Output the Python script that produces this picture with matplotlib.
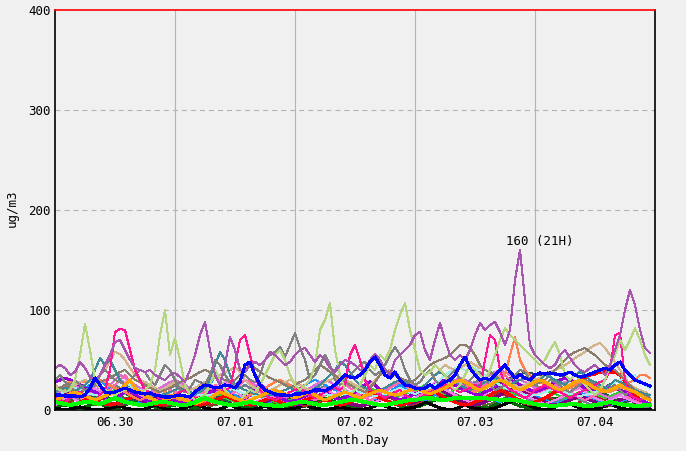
import numpy as np
import matplotlib
matplotlib.use("Agg")
import matplotlib.pyplot as plt

# hourly values, 06.30 00H .. 07.04 23H (12 values per row = half a day)
day_labels = ["06.30", "07.01", "07.02", "07.03", "07.04"]

purple = [
    42, 45, 42, 35, 38, 48, 42, 33, 30, 35, 45, 55,
    68, 70, 60, 50, 42, 40, 38, 40, 35, 32, 30, 35,
    37, 33, 28, 40, 55, 75, 88, 60, 35, 25, 45, 73,
    60, 40, 38, 45, 48, 45, 50, 58, 55, 50, 45, 48,
    55, 60, 62, 55, 48, 55, 50, 42, 38, 45, 50, 48,
    45, 40, 42, 50, 56, 50, 40, 35, 50, 55, 60, 65,
    75, 78, 60, 50, 70, 87, 70, 55, 50, 55, 50, 60,
    75, 87, 80, 85, 88, 78, 65, 80, 130, 160, 110, 65,
    55, 50, 45, 42, 45, 55, 60, 52, 45, 40, 38, 42,
    45, 40, 35, 45, 60, 75, 100, 120, 105, 80, 62, 57,
]
yellowgreen = [
    22, 20, 18, 20, 30, 55, 86, 60, 30, 22, 20, 18,
    15, 18, 20, 22, 20, 18, 20, 25, 40, 75, 100, 55,
    72, 50, 25, 15, 10, 12, 15, 25, 40, 30, 20, 15,
    12, 10, 15, 20, 18, 25, 35, 45, 55, 60, 50, 35,
    25, 20, 25, 30, 45, 80, 90, 107, 60, 35, 20, 15,
    20, 25, 35, 45, 40, 55, 50, 60, 80, 95, 107, 80,
    60, 40, 35, 38, 45, 40, 35, 25, 20, 25, 35, 45,
    40, 35, 30, 40, 55, 70, 82, 75, 70, 65, 60, 55,
    50, 45, 50, 60, 68, 55, 35, 30, 35, 30, 25, 20,
    15, 20, 30, 45, 55, 70, 60, 70, 82, 70, 55, 45,
]
deeppink = [
    12, 10, 8, 12, 15, 18, 15, 12, 10, 15, 20, 40,
    78, 81, 80, 60, 40, 30, 20, 18, 15, 12, 10, 12,
    15, 18, 20, 15, 12, 10, 8, 12, 15, 18, 20, 22,
    45, 70, 75, 55, 35, 20, 15, 12, 10, 12, 15, 18,
    20, 22, 18, 15, 12, 15, 18, 20, 22, 20, 25, 55,
    65, 50, 30, 20, 18, 15, 12, 15, 18, 20, 15, 12,
    10, 12, 15, 18, 20, 22, 25, 22, 20, 18, 20, 22,
    25, 22, 50, 75, 70, 40, 25, 20, 18, 15, 12, 15,
    20, 22, 25, 22, 20, 18, 15, 12, 15, 18, 20, 22,
    25, 28, 30, 40, 75, 77, 30, 15, 12, 10, 12, 10,
]
blue = [
    15, 15, 14, 14, 14, 13, 15, 22, 32, 25, 18, 17,
    18, 20, 22, 20, 18, 17, 16, 17, 15, 14, 13, 13,
    14, 15, 14, 13, 18, 22, 25, 24, 22, 23, 25, 24,
    22, 28, 45, 48, 35, 25, 20, 18, 16, 15, 15, 14,
    16, 16, 17, 18, 20, 20, 19, 22, 25, 30, 35, 33,
    32, 35, 40, 48, 53, 45, 35, 32, 38, 30, 25, 24,
    22, 21, 22, 25, 22, 25, 28, 30, 35, 45, 53, 42,
    35, 30, 32, 30, 35, 40, 45, 38, 32, 35, 32, 30,
    35, 37, 36, 37, 36, 35, 36, 38, 35, 33, 34, 36,
    38, 40, 42, 40, 45, 48, 40, 35, 30, 28, 26, 24,
]
gray = [
    30, 35, 28, 25, 30, 25, 20, 22, 25, 35, 40, 35,
    30, 28, 25, 30, 35, 40, 38, 30, 25, 35, 45, 40,
    30, 20, 18, 22, 30, 28, 25, 35, 50, 45, 35, 28,
    25, 30, 35, 30, 28, 35, 50, 55, 58, 63, 53, 65,
    77, 62, 50, 30, 35, 45, 55, 45, 30, 25, 30, 35,
    40, 45, 48, 40, 35, 38, 45, 55, 63, 55, 40, 30,
    25, 28, 35, 40, 30, 25, 28, 35, 40, 30, 25, 30,
    35, 38, 30, 25, 20, 22, 25, 30, 35, 40, 38, 30,
    25, 22, 25, 30, 28, 25, 20, 18, 22, 25, 30, 28,
    25, 20, 18, 22, 25, 20, 15, 18, 20, 15, 12, 10,
]
teal = [
    18, 20, 22, 20, 18, 22, 25, 30, 40, 52, 45, 50,
    40, 30, 25, 22, 20, 18, 16, 15, 14, 15, 16, 18,
    20, 22, 20, 18, 16, 18, 22, 30, 45, 58, 50, 35,
    25, 22, 20, 18, 16, 15, 14, 15, 16, 18, 20, 22,
    20, 18, 16, 18, 22, 25, 30, 35, 40, 48, 45, 38,
    30, 25, 22, 20, 18, 20, 22, 25, 28, 30, 28, 25,
    22, 20, 25, 30, 35, 38, 35, 30, 28, 25, 22, 20,
    22, 25, 28, 30, 32, 30, 28, 25, 28, 30, 32, 30,
    28, 30, 35, 33, 30, 28, 25, 30, 35, 38, 35, 30,
    28, 25, 22, 25, 30, 28, 25, 22, 20, 18, 16, 15,
]
tan = [
    25, 22, 20, 22, 25, 28, 30, 28, 30, 35, 40, 50,
    58, 56, 50, 42, 35, 30, 28, 25, 22, 20, 22, 25,
    28, 25, 22, 20, 22, 25, 28, 30, 32, 35, 38, 40,
    43, 38, 30, 25, 22, 20, 18, 20, 22, 25, 28, 30,
    28, 25, 22, 20, 22, 25, 28, 30, 32, 35, 30, 28,
    25, 22, 20, 25, 30, 35, 38, 40, 35, 30, 28, 25,
    22, 20, 25, 30, 35, 40, 45, 42, 40, 42, 45, 48,
    45, 42, 40, 38, 35, 32, 30, 28, 25, 22, 25, 28,
    30, 32, 35, 38, 40, 42, 45, 48, 52, 55, 58, 62,
    65, 67, 62, 55, 48, 40, 32, 25, 22, 20, 18, 15,
]
browngray = [
    20, 22, 25, 22, 20, 18, 20, 22, 25, 28, 30, 32,
    35, 38, 40, 35, 30, 28, 25, 22, 20, 18, 20, 22,
    25, 28, 30, 32, 35, 38, 40, 38, 35, 32, 30, 28,
    30, 35, 40, 45, 42, 38, 35, 32, 30, 28, 25, 22,
    25, 28, 30, 35, 40, 45, 42, 38, 35, 30, 28, 25,
    22, 20, 18, 22, 28, 35, 40, 38, 35, 32, 30, 28,
    30, 35, 40, 45, 48, 50, 52, 55, 60, 65, 65, 62,
    55, 45, 40, 38, 35, 30, 28, 25, 22, 20, 22, 25,
    25, 28, 30, 35, 40, 45, 50, 55, 58, 60, 62, 58,
    55, 50, 45, 42, 40, 35, 30, 25, 20, 18, 15, 12,
]
coral = [
    20, 22, 25, 28, 28, 28, 28, 28, 30, 30, 28, 25,
    22, 20, 18, 15, 12, 10, 12, 15, 18, 20, 18, 15,
    12, 10, 12, 15, 18, 20, 22, 25, 22, 20, 18, 15,
    12, 10, 12, 15, 18, 20, 22, 25, 28, 30, 28, 25,
    22, 20, 18, 20, 22, 25, 28, 30, 32, 30, 28, 25,
    22, 20, 18, 15, 18, 20, 22, 25, 28, 30, 28, 25,
    22, 20, 18, 20, 22, 25, 28, 30, 28, 25, 22, 20,
    18, 20, 22, 25, 28, 30, 35, 55, 73, 50, 40, 35,
    30, 28, 25, 22, 20, 18, 20, 22, 25, 28, 30, 28,
    25, 22, 20, 18, 20, 22, 25, 28, 30, 35, 35, 32,
]
lightcyan = [
    15, 16, 18, 20, 22, 20, 18, 16, 15, 14, 15, 16,
    18, 20, 22, 25, 22, 20, 18, 16, 15, 14, 15, 18,
    20, 22, 20, 18, 16, 15, 14, 15, 16, 18, 20, 22,
    20, 18, 16, 15, 14, 15, 16, 18, 20, 18, 16, 15,
    14, 15, 16, 18, 20, 18, 16, 15, 14, 15, 16, 18,
    20, 18, 16, 15, 14, 15, 16, 18, 20, 22, 20, 18,
    16, 18, 20, 22, 25, 30, 35, 38, 42, 42, 40, 40,
    42, 38, 35, 30, 28, 25, 22, 20, 18, 16, 15, 14,
    15, 16, 18, 20, 22, 20, 18, 16, 15, 14, 15, 16,
    18, 20, 22, 25, 28, 30, 32, 35, 35, 30, 25, 22,
]
orange = [
    10, 12, 14, 16, 18, 16, 14, 12, 10, 12, 14, 16,
    18, 20, 25, 30, 22, 18, 15, 12, 10, 8, 10, 12,
    15, 12, 10, 8, 6, 8, 10, 12, 15, 18, 16, 14,
    12, 10, 8, 10, 12, 14, 16, 18, 20, 18, 16, 14,
    12, 14, 16, 18, 15, 12, 10, 12, 14, 16, 18, 16,
    14, 12, 14, 16, 18, 20, 18, 16, 15, 16, 18, 20,
    22, 20, 18, 16, 18, 20, 22, 25, 28, 30, 28, 25,
    22, 20, 22, 25, 28, 30, 28, 25, 22, 20, 22, 25,
    28, 30, 28, 25, 22, 20, 22, 25, 28, 30, 28, 25,
    22, 20, 18, 20, 22, 25, 22, 20, 18, 15, 12, 10,
]
green = [
    8, 7, 6, 5, 6, 7, 8, 8, 7, 6, 8, 10,
    12, 10, 8, 7, 6, 5, 5, 6, 7, 8, 8, 7,
    6, 5, 5, 6, 8, 10, 12, 10, 8, 7, 6, 5,
    5, 6, 7, 8, 7, 6, 5, 5, 4, 4, 5, 6,
    7, 8, 8, 7, 6, 5, 5, 6, 7, 8, 9, 10,
    10, 9, 8, 7, 6, 5, 5, 6, 7, 8, 9, 10,
    10, 11, 12, 12, 11, 10, 10, 11, 12, 12, 12, 12,
    12, 12, 12, 11, 11, 10, 10, 10, 10, 9, 8, 7,
    6, 5, 5, 4, 4, 5, 5, 6, 6, 5, 4, 4,
    5, 6, 7, 8, 7, 6, 5, 5, 4, 4, 5, 5,
]
darkviolet = [
    28, 30, 32, 30, 28, 25, 22, 20, 18, 15, 12, 10,
    12, 15, 18, 20, 15, 12, 10, 8, 10, 12, 15, 12,
    10, 8, 6, 8, 10, 12, 15, 18, 20, 22, 18, 15,
    12, 10, 12, 15, 20, 25, 22, 18, 15, 12, 10, 8,
    10, 12, 14, 16, 18, 20, 18, 15, 12, 10, 12, 15,
    18, 22, 25, 28, 25, 20, 18, 15, 12, 10, 12, 14,
    16, 18, 20, 22, 25, 28, 30, 28, 25, 22, 20, 18,
    16, 15, 18, 20, 22, 25, 28, 30, 28, 25, 22, 20,
    18, 20, 22, 25, 28, 30, 32, 30, 28, 25, 22, 20,
    18, 20, 22, 25, 22, 20, 18, 15, 12, 10, 8, 6,
]
violet = [
    5, 8, 12, 15, 10, 8, 12, 18, 22, 18, 15, 20,
    25, 30, 28, 22, 18, 15, 12, 10, 8, 12, 15, 18,
    20, 15, 10, 8, 12, 16, 20, 18, 15, 22, 28, 25,
    20, 15, 12, 10, 8, 10, 12, 15, 12, 10, 8, 6,
    8, 10, 12, 15, 18, 20, 22, 18, 15, 20, 25, 22,
    18, 15, 12, 10, 8, 10, 12, 15, 18, 15, 12, 10,
    12, 15, 18, 22, 28, 25, 20, 18, 15, 12, 10, 8,
    10, 12, 15, 20, 28, 35, 30, 25, 20, 18, 15, 12,
    10, 8, 6, 8, 10, 12, 15, 18, 20, 22, 18, 15,
    12, 10, 8, 10, 12, 15, 12, 10, 8, 6, 5, 4,
]
darkgreen = [
    3, 4, 5, 4, 3, 2, 3, 5, 8, 6, 4, 3,
    2, 3, 5, 8, 10, 8, 6, 4, 3, 2, 3, 4,
    5, 6, 4, 3, 2, 3, 5, 8, 12, 10, 8, 6,
    4, 3, 2, 3, 4, 6, 8, 10, 8, 6, 4, 3,
    2, 3, 4, 6, 8, 10, 12, 10, 8, 6, 4, 3,
    2, 3, 5, 8, 10, 12, 10, 8, 6, 4, 3, 2,
    3, 4, 6, 8, 10, 12, 15, 12, 10, 8, 6, 5,
    4, 3, 2, 3, 5, 8, 10, 8, 6, 4, 3, 2,
    3, 5, 8, 10, 12, 10, 8, 6, 4, 3, 2, 3,
    5, 8, 10, 12, 10, 8, 6, 4, 3, 2, 3, 4,
]
black = [
    2, 1, 0, 1, 2, 3, 2, 1, 0, 0, 1, 2,
    3, 4, 2, 1, 0, 0, 1, 3, 5, 3, 1, 0,
    0, 1, 2, 4, 6, 4, 2, 1, 0, 1, 3, 5,
    3, 1, 0, 0, 1, 2, 4, 2, 1, 0, 0, 1,
    2, 3, 5, 3, 2, 1, 0, 1, 2, 3, 2, 1,
    0, 0, 1, 2, 4, 6, 4, 2, 1, 0, 1, 2,
    3, 5, 8, 6, 4, 2, 1, 0, 1, 3, 5, 3,
    2, 1, 0, 1, 2, 4, 6, 8, 10, 8, 6, 4,
    2, 1, 0, 1, 3, 5, 8, 6, 4, 2, 1, 0,
    1, 2, 4, 6, 4, 2, 1, 0, 0, 1, 2, 1,
]
red = [
    10, 8, 6, 5, 6, 8, 10, 12, 10, 8, 6, 5,
    6, 8, 10, 12, 14, 12, 10, 8, 6, 5, 6, 8,
    10, 12, 10, 8, 6, 5, 6, 8, 10, 12, 14, 12,
    10, 8, 6, 5, 6, 8, 10, 12, 10, 8, 6, 5,
    6, 8, 10, 12, 15, 12, 10, 8, 6, 5, 6, 8,
    10, 12, 15, 18, 15, 12, 10, 8, 6, 5, 6, 8,
    10, 12, 14, 16, 18, 15, 12, 10, 8, 6, 5, 6,
    8, 10, 12, 15, 18, 20, 18, 15, 12, 10, 8, 6,
    8, 10, 12, 15, 18, 20, 22, 25, 28, 30, 32, 35,
    36, 38, 38, 38, 38, 35, 28, 20, 15, 10, 8, 6,
]
brown = [
    15, 12, 10, 8, 10, 12, 15, 18, 15, 12, 10, 8,
    6, 5, 6, 8, 10, 12, 10, 8, 6, 5, 4, 5,
    6, 8, 10, 12, 10, 8, 6, 5, 6, 8, 10, 12,
    15, 12, 10, 8, 6, 5, 4, 5, 6, 8, 10, 8,
    6, 5, 4, 5, 6, 8, 10, 12, 15, 12, 10, 8,
    6, 5, 6, 8, 10, 12, 15, 12, 10, 8, 6, 5,
    6, 8, 10, 12, 15, 18, 20, 18, 15, 12, 10, 8,
    6, 8, 10, 12, 15, 18, 15, 12, 10, 8, 6, 5,
    6, 8, 10, 12, 10, 8, 6, 5, 6, 8, 10, 12,
    15, 12, 10, 8, 6, 5, 4, 5, 6, 8, 6, 5,
]
hotpink = [
    18, 20, 22, 18, 15, 12, 15, 20, 25, 22, 18, 20,
    25, 30, 35, 28, 22, 18, 15, 12, 15, 18, 22, 20,
    18, 15, 12, 10, 12, 15, 18, 20, 25, 22, 18, 15,
    18, 25, 30, 28, 22, 18, 15, 12, 10, 12, 15, 18,
    20, 18, 15, 12, 10, 12, 15, 20, 25, 30, 28, 22,
    18, 15, 12, 10, 12, 15, 18, 22, 25, 28, 25, 20,
    18, 15, 18, 22, 25, 28, 30, 32, 30, 28, 25, 22,
    20, 22, 25, 28, 35, 40, 35, 30, 25, 22, 20, 18,
    15, 18, 20, 22, 25, 22, 20, 18, 15, 12, 10, 12,
    15, 18, 20, 22, 25, 20, 15, 12, 10, 8, 6, 5,
]
darkpurple = [
    12, 10, 15, 20, 18, 15, 12, 10, 8, 6, 8, 10,
    12, 15, 18, 15, 12, 10, 8, 10, 12, 14, 12, 10,
    8, 6, 5, 6, 8, 10, 12, 15, 18, 20, 18, 15,
    12, 10, 8, 6, 5, 6, 8, 10, 12, 10, 8, 6,
    5, 6, 8, 10, 12, 15, 18, 15, 12, 10, 8, 6,
    5, 4, 5, 6, 8, 10, 12, 14, 12, 10, 8, 6,
    8, 10, 12, 15, 18, 20, 18, 15, 12, 10, 8, 6,
    5, 6, 8, 10, 12, 15, 18, 20, 22, 20, 18, 15,
    12, 10, 8, 6, 5, 6, 8, 10, 12, 15, 12, 10,
    8, 6, 5, 6, 8, 10, 12, 10, 8, 6, 5, 4,
]
limegreen = [
    12, 14, 16, 18, 16, 14, 12, 10, 12, 14, 16, 18,
    20, 18, 16, 14, 12, 10, 8, 10, 12, 14, 16, 14,
    12, 10, 8, 10, 12, 15, 18, 20, 18, 15, 12, 10,
    8, 10, 12, 14, 16, 14, 12, 10, 8, 6, 8, 10,
    12, 14, 16, 18, 20, 18, 16, 14, 12, 10, 12, 14,
    16, 18, 20, 22, 20, 18, 16, 14, 12, 14, 16, 18,
    20, 22, 25, 22, 20, 18, 16, 18, 20, 22, 24, 22,
    20, 18, 22, 28, 30, 25, 20, 18, 16, 14, 16, 18,
    20, 22, 20, 18, 16, 14, 12, 14, 16, 18, 20, 18,
    16, 14, 12, 14, 16, 18, 16, 14, 12, 10, 8, 6,
]
dodgerblue = [
    8, 10, 12, 15, 18, 20, 22, 25, 28, 30, 25, 20,
    15, 12, 10, 8, 6, 8, 10, 12, 15, 12, 10, 8,
    6, 8, 10, 12, 15, 18, 20, 25, 35, 30, 22, 18,
    15, 12, 10, 8, 6, 5, 6, 8, 10, 12, 15, 18,
    20, 22, 25, 28, 30, 28, 25, 22, 20, 18, 15, 12,
    10, 8, 6, 8, 10, 12, 15, 18, 22, 25, 22, 18,
    15, 12, 10, 12, 15, 18, 20, 22, 25, 28, 25, 22,
    20, 18, 15, 12, 10, 8, 10, 12, 15, 18, 20, 18,
    15, 12, 10, 8, 6, 8, 10, 12, 15, 18, 15, 12,
    10, 8, 6, 5, 6, 8, 10, 12, 10, 8, 6, 5,
]
slategray = [
    20, 18, 16, 14, 12, 10, 12, 14, 16, 18, 20, 22,
    25, 22, 20, 18, 16, 15, 14, 15, 16, 18, 20, 22,
    24, 22, 20, 18, 16, 14, 12, 10, 12, 14, 16, 18,
    20, 22, 25, 22, 20, 18, 16, 14, 12, 10, 8, 10,
    12, 14, 16, 18, 20, 22, 24, 22, 20, 18, 16, 14,
    12, 10, 8, 10, 12, 14, 16, 18, 20, 22, 20, 18,
    16, 14, 12, 10, 12, 14, 16, 18, 20, 22, 24, 26,
    28, 30, 28, 26, 24, 22, 20, 18, 16, 14, 12, 10,
    8, 6, 5, 6, 8, 10, 12, 14, 12, 10, 8, 6,
    5, 4, 5, 6, 8, 10, 8, 6, 5, 4, 3, 3,
]
orchid = [
    15, 18, 20, 22, 25, 22, 20, 18, 15, 18, 22, 25,
    30, 35, 32, 28, 25, 22, 20, 18, 20, 22, 25, 28,
    30, 28, 25, 22, 20, 18, 15, 12, 15, 18, 20, 22,
    25, 28, 30, 28, 25, 22, 20, 18, 16, 14, 12, 14,
    16, 18, 20, 22, 25, 28, 30, 28, 25, 22, 20, 18,
    16, 14, 12, 14, 16, 18, 20, 22, 25, 28, 30, 28,
    25, 22, 20, 18, 20, 22, 25, 28, 30, 32, 30, 28,
    25, 28, 32, 35, 38, 40, 38, 35, 32, 30, 28, 25,
    22, 20, 18, 20, 22, 25, 28, 30, 28, 25, 22, 20,
    18, 16, 14, 12, 14, 16, 18, 20, 18, 16, 14, 12,
]
darkolive = [
    5, 6, 8, 10, 12, 10, 8, 6, 5, 6, 8, 10,
    12, 14, 12, 10, 8, 6, 5, 6, 8, 10, 12, 14,
    16, 14, 12, 10, 8, 6, 5, 4, 5, 6, 8, 10,
    12, 14, 16, 18, 16, 14, 12, 10, 8, 6, 5, 6,
    8, 10, 12, 14, 16, 14, 12, 10, 8, 6, 8, 10,
    12, 14, 16, 18, 20, 18, 16, 14, 12, 10, 8, 6,
    5, 6, 8, 10, 12, 14, 16, 18, 16, 14, 12, 10,
    8, 6, 5, 6, 8, 10, 12, 14, 16, 14, 12, 10,
    8, 6, 5, 4, 5, 6, 8, 10, 12, 10, 8, 6,
    5, 4, 3, 4, 5, 6, 8, 6, 5, 4, 3, 2,
]
darkslate = [
    10, 12, 14, 12, 10, 8, 10, 12, 14, 16, 14, 12,
    10, 8, 6, 8, 10, 12, 14, 16, 14, 12, 10, 8,
    6, 8, 10, 12, 14, 16, 18, 16, 14, 12, 10, 8,
    10, 12, 14, 16, 18, 20, 18, 16, 14, 12, 10, 12,
    14, 16, 18, 20, 22, 20, 18, 16, 14, 12, 14, 16,
    18, 20, 22, 20, 18, 16, 14, 16, 18, 20, 22, 24,
    22, 20, 18, 16, 18, 20, 22, 24, 26, 28, 26, 24,
    22, 20, 22, 24, 26, 28, 30, 32, 35, 36, 37, 37,
    36, 35, 37, 38, 37, 35, 32, 30, 28, 26, 24, 22,
    20, 18, 16, 14, 12, 10, 8, 10, 12, 10, 8, 6,
]

# drawing order: background clutter first, thick lines last
series = [
    (darkolive, "#556b2f", 0.75), (darkgreen, "#006400", 1.5),
    (black, "#000000", 1.5), (brown, "#a52a2a", 0.75),
    (slategray, "#708090", 0.75), (darkslate, "#2f4f4f", 0.75),
    (dodgerblue, "#1e90ff", 0.75), (limegreen, "#32cd32", 0.75),
    (darkpurple, "#800080", 1.5), (violet, "#ee82ee", 0.75),
    (orchid, "#da70d6", 0.75), (hotpink, "#ff69b4", 0.75),
    (red, "#ff0000", 1.5), (darkviolet, "#9400d3", 1.5),
    (lightcyan, "#a0eef0", 0.75), (coral, "#ff7f50", 0.75),
    (tan, "#d2b48c", 0.75), (browngray, "#8b7d6b", 0.75),
    (teal, "#3f8a94", 0.75), (gray, "#808080", 0.75),
    (deeppink, "#ff1493", 0.75), (yellowgreen, "#b4d67e", 0.75),
    (purple, "#a855b0", 0.75), (orange, "#ffa500", 1.5),
    (green, "#00ff00", 2.2), (blue, "#0000ff", 1.5),
]

plt.rcParams['font.family'] = ['DejaVu Sans Mono']
plt.rcParams['font.size'] = 9
plt.rcParams['lines.scale_dashes'] = False

fig = plt.figure(figsize=(6.86, 4.51), dpi=100, facecolor='#f0f0f0')
ax = fig.add_axes([55 / 686, 41 / 451, 600 / 686, 400 / 451], facecolor='#f0f0f0')

# grid: solid at day boundaries, dashed at 100/200/300
for h in (24, 48, 72, 96):
    ax.axvline(h, color='#b4b4b4', lw=0.8, zorder=0.5)
for v in (100, 200, 300):
    ax.axhline(v, color='#b4b4b4', lw=0.8, ls=(0, (3.6, 2.9)), zorder=0.5)

for vals, col, lw in series:
    ax.plot(np.arange(len(vals)), vals, color=col, lw=lw,
            antialiased=False, zorder=2)

peak_h = int(np.argmax(purple))
ax.annotate(f"{purple[peak_h]} ({peak_h % 24}H)", xy=(peak_h, purple[peak_h]),
            xytext=(-14, 2), textcoords='offset pixels',
            ha='left', va='bottom', fontsize=9)

ax.set_xlim(0, 120)
ax.set_ylim(0, 400)
ax.set_yticks([0, 100, 200, 300, 400])
ax.set_xticks([12, 36, 60, 84, 108])
ax.set_xticklabels(day_labels)
ax.tick_params(length=0)
ax.tick_params(axis='y', pad=3)
ax.tick_params(axis='x', pad=4)

ax.spines['top'].set_color('#ff0000')
ax.spines['top'].set_linewidth(1.2)
for s in ('left', 'right', 'bottom'):
    ax.spines[s].set_color('black')
    ax.spines[s].set_linewidth(1.2)
ax.spines['bottom'].set_zorder(1)

ax.set_xlabel('Month.Day', labelpad=4)
fig.text(12 / 686, 1 - 208 / 451, 'ug/m3', rotation=90, ha='center', va='center')

fig.savefig('out.png', dpi=100, facecolor='#f0f0f0')
